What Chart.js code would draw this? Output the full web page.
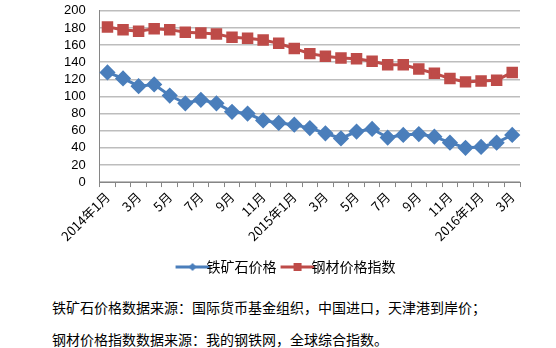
<!DOCTYPE html>
<html><head><meta charset="utf-8">
<script src="https://cdn.jsdelivr.net/npm/chart.js@4"></script>
<style>
html,body{margin:0;padding:0;background:#fff;}
#wrap{position:relative;width:556px;height:348px;overflow:hidden;}
#c{position:absolute;left:0;top:0;}
.cap{position:absolute;left:52px;font:14px "Noto Sans CJK SC",sans-serif;color:#000;white-space:nowrap;}
</style></head>
<body>
<div id="wrap">
<canvas id="c" width="556" height="288"></canvas>
<div class="cap" style="top:297px">铁矿石价格数据来源：国际货币基金组织，中国进口，天津港到岸价；</div>
<div class="cap" style="top:329px">钢材价格指数数据来源：我的钢铁网，全球综合指数。</div>
</div>
<script>
const categories = ['2014年1月','2月','3月','4月','5月','6月','7月','8月','9月','10月','11月','12月',
  '2015年1月','2月','3月','4月','5月','6月','7月','8月','9月','10月','11月','12月',
  '2016年1月','2月','3月'];
const ironOre = [128,121,112,114,101,92,96,92,82,80,72,69,67,63,57,51,59,62,52,55,56,53,46,40,41,46,55];
const steelIndex = [181,178,176,179,178,175,174,173,169,168,166,162,156,150,147,145,144,141,137,137,132,127,121,117,118,119,128];
const yTicks = [0,20,40,60,80,100,120,140,160,180,200];
const seriesNames = ['铁矿石价格','钢材价格指数'];

const BLUE = '#4A7EBB', RED = '#BE4B48';

function legendIcon(color, shape){
  const cv = document.createElement('canvas');
  cv.width = 36; cv.height = 12;
  const g = cv.getContext('2d');
  g.strokeStyle = color; g.lineWidth = 3;
  g.beginPath(); g.moveTo(1,6); g.lineTo(35,6); g.stroke();
  g.fillStyle = color;
  if (shape === 'diamond'){
    g.beginPath(); g.moveTo(18,2); g.lineTo(22,6); g.lineTo(18,10); g.lineTo(14,6); g.closePath(); g.fill();
  } else {
    g.fillRect(14,2,8,8);
  }
  return cv;
}
const icons = [legendIcon(BLUE,'diamond'), legendIcon(RED,'square')];

new Chart(document.getElementById('c'), {
  type: 'line',
  data: {
    labels: categories,
    datasets: [
      {label: seriesNames[0], data: ironOre, borderColor: BLUE, backgroundColor: BLUE,
       borderWidth: 3, pointStyle: 'rectRot', pointRadius: 6, pointHoverRadius: 6, tension: 0},
      {label: seriesNames[1], data: steelIndex, borderColor: RED, backgroundColor: RED,
       borderWidth: 3, pointStyle: 'rect', pointRadius: 6, pointHoverRadius: 6, tension: 0}
    ]
  },
  options: {
    responsive: false,
    animation: false,
    layout: {padding: {left: 61, right: 36, top: -2, bottom: 4}},
    plugins: {
      tooltip: {enabled: false},
      legend: {
        position: 'bottom',
        labels: {
          usePointStyle: true,
          font: {family: '"Noto Sans CJK SC", sans-serif', size: 14},
          color: '#000',
          padding: 14,
          generateLabels(chart){
            const items = Chart.defaults.plugins.legend.labels.generateLabels(chart);
            items.forEach((it,i)=>{ it.pointStyle = icons[i]; });
            return items;
          }
        }
      }
    },
    scales: {
      x: {
        offset: true,
        grid: {display: true, drawOnChartArea: false, offset: true, tickLength: 5, color: '#868686'},
        border: {color: '#868686'},
        ticks: {
          autoSkip: false, maxRotation: 45, minRotation: 45,
          color: '#000', padding: 2,
          font: {family: '"Noto Sans CJK SC", "Liberation Sans", sans-serif', size: 13},
          callback(v, i){ return i % 2 === 0 ? categories[i] : ''; }
        }
      },
      y: {
        min: 0, max: 200,
        afterBuildTicks(ax){ ax.ticks = yTicks.map(v=>({value:v})); },
        grid: {color: '#BDBDBD', lineWidth: 1.5, drawTicks: true, tickLength: 11, tickColor: 'rgba(0,0,0,0)'},
        border: {color: '#868686'},
        ticks: {autoSkip: false, color: '#000', padding: 3, font: {family: '"Liberation Sans", sans-serif', size: 13}}
      }
    }
  }
});
</script>
</body></html>
